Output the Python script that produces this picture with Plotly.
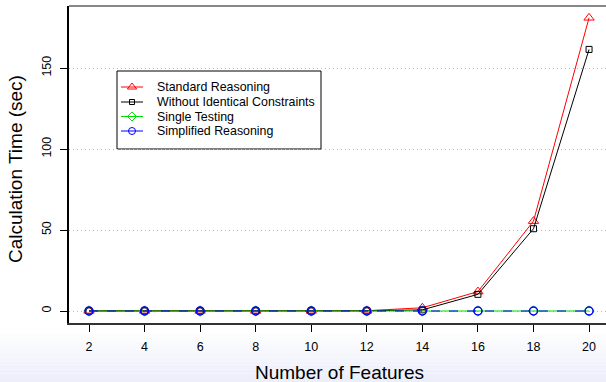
import plotly.graph_objects as go

features = [2, 4, 6, 8, 10, 12, 14, 16, 18, 20]
standard = [0.1, 0.1, 0.1, 0.1, 0.1, 0.2, 2.0, 12.0, 55.5, 181.0]
without_ident = [0.05, 0.05, 0.05, 0.05, 0.05, 0.1, 0.7, 10.3, 50.8, 161.5]
single = [0, 0, 0, 0, 0, 0, 0, 0, 0, 0]
simplified = [0, 0, 0, 0, 0, 0, 0, 0, 0, 0]
series_names = ["Standard Reasoning", "Without Identical Constraints", "Single Testing", "Simplified Reasoning"]
y_ticks = [0, 50, 100, 150]

W, H = 606, 382
L, R, T, B = 69, 0, 6, 59
PW, PH = W - L - R, H - T - B
FONT = "Liberation Sans, Arial, sans-serif"

styles = [
    dict(color="#ff0000", symbol="triangle-up-open", size=9, lw=1, dash="solid", mlw=1),
    dict(color="#000000", symbol="square-open", size=6, lw=1, dash="solid", mlw=1),
    dict(color="#00dd00", symbol="diamond-open", size=8, lw=1, dash="solid", mlw=1),
    dict(color="#0000ff", symbol="circle-open", size=8, lw=1, dash="dash", mlw=1.5),
]
data = [standard, without_ident, single, simplified]

fig = go.Figure()
for name, vals, s in zip(series_names, data, styles):
    fig.add_trace(go.Scatter(x=features, y=vals, name=name, mode="lines+markers", showlegend=False,
                             line=dict(color=s["color"], width=s["lw"], dash=s["dash"]),
                             marker=dict(symbol=s["symbol"], size=s["size"], color=s["color"],
                                         line=dict(width=s["mlw"], color=s["color"]))))

# manual legend on a pixel-based overlay axis
fig.add_shape(type="rect", xref="x2", yref="y2", x0=117, x1=321, y0=71, y1=149,
              line=dict(color="#000000", width=1), fillcolor="white", layer="below")
leg_rows = [87, 102, 116.5, 131]
for name, s, yy in zip(series_names, styles, leg_rows):
    fig.add_trace(go.Scatter(x=[121, 143], y=[yy, yy], mode="lines", xaxis="x2", yaxis="y2",
                             showlegend=False, hoverinfo="skip",
                             line=dict(color=s["color"], width=1)))
    fig.add_trace(go.Scatter(x=[132], y=[yy], mode="markers", xaxis="x2", yaxis="y2",
                             showlegend=False, hoverinfo="skip",
                             marker=dict(symbol=s["symbol"], size=s["size"] - 1, color=s["color"],
                                         line=dict(width=1, color=s["color"]))))
    fig.add_annotation(x=155, y=yy, xref="x2", yref="y2", text=name, showarrow=False,
                       xanchor="left", yanchor="middle", font=dict(size=12.4, family=FONT, color="#000"))

# bottom gradient band
n = 12
y0px = 333
for i in range(n):
    a = y0px + (H - y0px) * i / n
    b = y0px + (H - y0px) * (i + 1) / n
    t = (i + 1) / n
    r = int(255 - (255 - 236) * t)
    g = int(255 - (255 - 238) * t)
    bl = int(255 - (255 - 250) * t)
    fig.add_shape(type="rect", xref="paper", yref="paper", layer="below",
                  x0=-L / PW, x1=1.0,
                  y0=-(b - (H - B)) / PH, y1=-(a - (H - B)) / PH,
                  fillcolor=f"rgb({r},{g},{bl})", line=dict(width=0))

# top border line (gray)
fig.add_shape(type="line", xref="paper", yref="paper", x0=0, x1=1, y0=1, y1=1,
              line=dict(color="#888888", width=2))

# axis titles
fig.add_annotation(x=(339.5 - L) / PW, y=-(373 - (H - B)) / PH, xref="paper", yref="paper",
                   text="Number of Features", showarrow=False, xanchor="center", yanchor="middle",
                   font=dict(size=19, family=FONT, color="#000"))
fig.add_annotation(x=(15 - L) / PW, y=((H - B) - 169) / PH, xref="paper", yref="paper",
                   text="Calculation Time (sec)", showarrow=False, xanchor="center", yanchor="middle",
                   textangle=-90, font=dict(size=19, family=FONT, color="#000"))

fig.update_layout(
    width=W, height=H,
    margin=dict(l=L, r=R, t=T, b=B),
    paper_bgcolor="white", plot_bgcolor="white",
    font=dict(family=FONT, color="#000000", size=12.5),
    showlegend=False,
    xaxis=dict(range=[1.28, 20.61], tickvals=features, ticktext=[str(v) for v in features],
               showgrid=False, zeroline=False, showline=True, linecolor="#333333", linewidth=2,
               ticks="outside", ticklen=7, tickcolor="#000000", tickfont=dict(size=12.5),
               ticklabelstandoff=4),
    yaxis=dict(range=[-7.4, 188.3], tickvals=y_ticks, ticktext=[str(v) for v in y_ticks],
               tickangle=-90, showgrid=True, gridcolor="#bbbbbb", griddash="1px,3px", gridwidth=1,
               zeroline=False, showline=True, linecolor="#000000", linewidth=1.5,
               ticks="outside", ticklen=7, tickcolor="#000000", tickfont=dict(size=12.5),
               ticklabelstandoff=4),
    xaxis2=dict(range=[L, W - R], overlaying="x", visible=False, fixedrange=True),
    yaxis2=dict(range=[H - B, T], overlaying="y", visible=False, fixedrange=True),
)

fig.write_html("out.html")
